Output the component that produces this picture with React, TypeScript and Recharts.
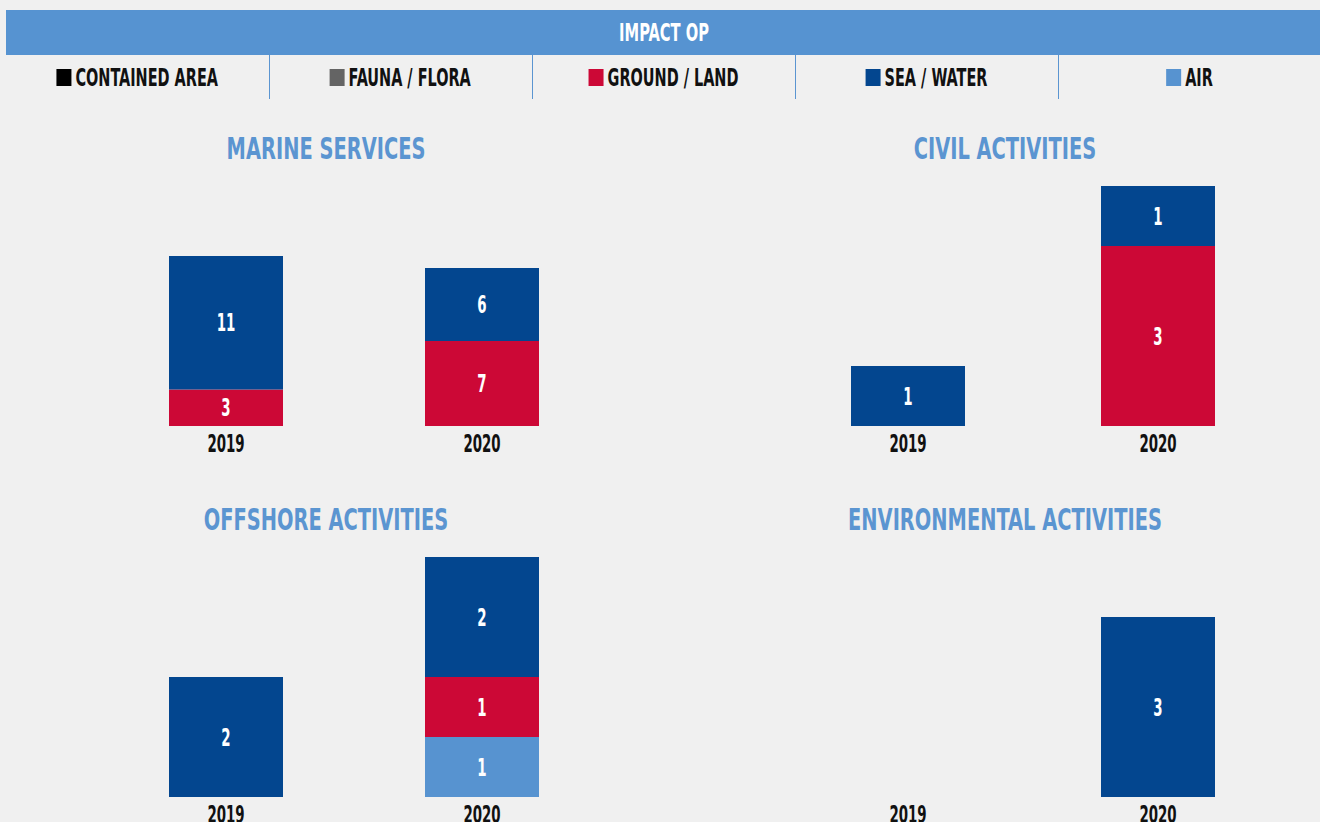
import React, { useLayoutEffect, useRef, useState } from 'react';
import { BarChart, Bar, XAxis, YAxis, LabelList } from 'recharts';

// ---------- data ----------
const YEARS = ['2019', '2020'];

const LEGEND_KEYS = ['contained', 'fauna', 'ground', 'sea', 'air'];
const LEGEND_LABELS = ['CONTAINED AREA', 'FAUNA / FLORA', 'GROUND / LAND', 'SEA / WATER', 'AIR'];
const LEGEND_COLORS = ['#000000', '#646464', '#CC0836', '#03468F', '#5793D0'];
const STACK_ORDER = ['air', 'ground', 'sea', 'fauna', 'contained'];

const HEADER_TITLE = 'IMPACT OP';
const PANEL_TITLES = ['MARINE SERVICES', 'CIVIL ACTIVITIES', 'OFFSHORE ACTIVITIES', 'ENVIRONMENTAL ACTIVITIES'];

const MARINE_CONTAINED = [0, 0];
const MARINE_FAUNA = [0, 0];
const MARINE_GROUND = [3, 7];
const MARINE_SEA = [11, 6];
const MARINE_AIR = [0, 0];

const CIVIL_CONTAINED = [0, 0];
const CIVIL_FAUNA = [0, 0];
const CIVIL_GROUND = [0, 3];
const CIVIL_SEA = [1, 1];
const CIVIL_AIR = [0, 0];

const OFFSHORE_CONTAINED = [0, 0];
const OFFSHORE_FAUNA = [0, 0];
const OFFSHORE_GROUND = [0, 1];
const OFFSHORE_SEA = [2, 2];
const OFFSHORE_AIR = [0, 1];

const ENV_CONTAINED = [0, 0];
const ENV_FAUNA = [0, 0];
const ENV_GROUND = [0, 0];
const ENV_SEA = [0, 3];
const ENV_AIR = [0, 0];

// value-axis maximum of each panel
const AXIS_MAX = [19.76, 4, 4, 4];

function buildRows(contained: number[], fauna: number[], ground: number[], sea: number[], air: number[]) {
  return YEARS.map((year, i) => ({
    year,
    contained: contained[i],
    fauna: fauna[i],
    ground: ground[i],
    sea: sea[i],
    air: air[i],
  }));
}

const PANEL_DATA = [
  buildRows(MARINE_CONTAINED, MARINE_FAUNA, MARINE_GROUND, MARINE_SEA, MARINE_AIR),
  buildRows(CIVIL_CONTAINED, CIVIL_FAUNA, CIVIL_GROUND, CIVIL_SEA, CIVIL_AIR),
  buildRows(OFFSHORE_CONTAINED, OFFSHORE_FAUNA, OFFSHORE_GROUND, OFFSHORE_SEA, OFFSHORE_AIR),
  buildRows(ENV_CONTAINED, ENV_FAUNA, ENV_GROUND, ENV_SEA, ENV_AIR),
];

// ---------- style ----------
const FONT = "'DejaVu Sans Condensed', 'Liberation Sans Narrow', sans-serif";
const BG = '#F0F0F0';
const HEADER_BLUE = '#5693D1';
const TITLE_BLUE = '#5B95D1';

const colorOf = (key: string) => LEGEND_COLORS[LEGEND_KEYS.indexOf(key)];

function CText(props: { x: number; y: number; size: number; fill: string; sx: number; anchor?: string; children: any }) {
  const { x, y, size, fill, sx, anchor = 'middle', children } = props;
  return (
    <text
      transform={`translate(${x},${y}) scale(${sx},1)`}
      textAnchor={anchor as any}
      fontFamily={FONT}
      fontWeight={700}
      fontSize={size}
      fill={fill}
    >
      {children}
    </text>
  );
}

const renderBarLabel = (props: any) => {
  const { value } = props;
  if (!value) return null;
  const vb = props.viewBox && props.viewBox.width != null ? props.viewBox : props;
  const cx = Number(vb.x) + Number(vb.width) / 2;
  const cy = Number(vb.y) + Number(vb.height) / 2;
  return (
    <CText x={cx} y={cy + 8.5} size={24} fill="#FFFFFF" sx={0.62}>
      {value}
    </CText>
  );
};

const renderTick = (props: any) => {
  const { x, y, payload } = props;
  return (
    <CText x={x} y={y + 26} size={24} fill="#111111" sx={0.62}>
      {payload.value}
    </CText>
  );
};

function Panel(props: { data: any[]; left: number; width: number; plotTop: number; max: number }) {
  const { data, left, width, plotTop, max } = props;
  const marginTop = 10;
  const plotH = 240;
  const axisH = 40;
  return (
    <div style={{ position: 'absolute', left, top: plotTop - marginTop }}>
      <BarChart
        width={width}
        height={marginTop + plotH + axisH}
        data={data}
        margin={{ top: marginTop, right: 0, bottom: 0, left: 0 }}
        barSize={114}
      >
        <XAxis
          dataKey="year"
          axisLine={false}
          tickLine={false}
          tickSize={0}
          tickMargin={0}
          height={axisH}
          interval={0}
          tick={renderTick}
        />
        <YAxis hide type="number" domain={[0, max]} />
        {STACK_ORDER.map((key) => (
          <Bar key={key} dataKey={key} stackId="s" fill={colorOf(key)} isAnimationActive={false}>
            <LabelList dataKey={key} content={renderBarLabel} />
          </Bar>
        ))}
      </BarChart>
    </div>
  );
}

const COL_W = 263;
const COL_X0 = 6;

function Decorations() {
  const refs = useRef<(SVGGElement | null)[]>([]);
  const [widths, setWidths] = useState<number[]>(LEGEND_LABELS.map(() => 0));
  useLayoutEffect(() => {
    const w = refs.current.map((el) => (el ? el.getBoundingClientRect().width : 0));
    setWidths(w);
  }, []);

  const sq = 15;
  const gap = 4;
  return (
    <svg width={1320} height={822} style={{ position: 'absolute', left: 0, top: 0 }}>
      <rect x={6} y={10} width={1314} height={45} fill={HEADER_BLUE} />
      <CText x={664} y={41} size={24} fill="#FFFFFF" sx={0.68}>
        {HEADER_TITLE}
      </CText>
      {LEGEND_LABELS.map((label, i) => {
        const colX = COL_X0 + COL_W * i;
        const cx = colX + COL_W / 2;
        const total = sq + gap + widths[i];
        const startX = cx - total / 2;
        return (
          <g key={label}>
            {i > 0 && <line x1={colX + 0.5} x2={colX + 0.5} y1={55} y2={99} stroke={TITLE_BLUE} strokeWidth={1} />}
            <rect x={startX} y={69} width={sq} height={17} fill={LEGEND_COLORS[i]} />
            <g ref={(el) => { refs.current[i] = el; }}>
              <CText x={startX + sq + gap} y={86} size={24} fill="#111111" anchor="start" sx={0.67}>
                {label}
              </CText>
            </g>
          </g>
        );
      })}
      <CText x={326} y={159} size={30} fill={TITLE_BLUE} sx={0.72}>{PANEL_TITLES[0]}</CText>
      <CText x={1005} y={159} size={30} fill={TITLE_BLUE} sx={0.72}>{PANEL_TITLES[1]}</CText>
      <CText x={326} y={530} size={30} fill={TITLE_BLUE} sx={0.72}>{PANEL_TITLES[2]}</CText>
      <CText x={1005} y={530} size={30} fill={TITLE_BLUE} sx={0.72}>{PANEL_TITLES[3]}</CText>
    </svg>
  );
}

export default function App() {
  return (
    <div style={{ position: 'relative', width: 1320, height: 822, overflow: 'hidden', background: BG }}>
      <style>{`body{margin:0;background:${BG};}`}</style>
      <Decorations />
      <Panel data={PANEL_DATA[0]} left={98} width={512} plotTop={186} max={AXIS_MAX[0]} />
      <Panel data={PANEL_DATA[1]} left={783} width={500} plotTop={186} max={AXIS_MAX[1]} />
      <Panel data={PANEL_DATA[2]} left={98} width={512} plotTop={557} max={AXIS_MAX[2]} />
      <Panel data={PANEL_DATA[3]} left={783} width={500} plotTop={557} max={AXIS_MAX[3]} />
    </div>
  );
}
